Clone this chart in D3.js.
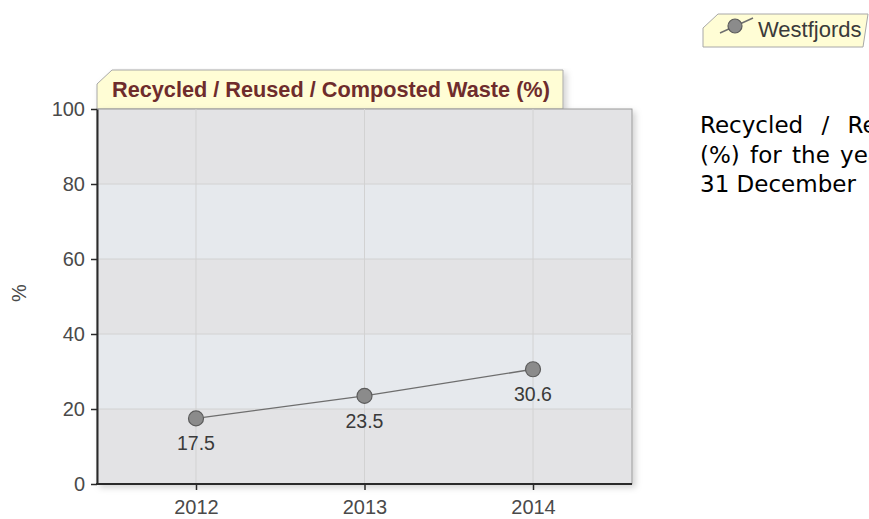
<!DOCTYPE html>
<html>
<head>
<meta charset="utf-8">
<script src="https://cdn.jsdelivr.net/npm/d3@7"></script>
<style>
  body { margin: 0; background: #fff; overflow: hidden; }
  svg { display: block; }
</style>
</head>
<body>
<script>
var width = 869
var height = 519
var margin = { top: 109, bottom: 35, left: 97, right: 237 }

// chart data
var years = ['2012', '2013', '2014']
var values = [17.5, 23.5, 30.6]
var yTicks = [0, 20, 40, 60, 80, 100]
var seriesName = 'Westfjords'
var chartTitle = 'Recycled / Reused / Composted Waste (%)'
var yLabel = '%'
var descLines = [
  'Recycled / Reused / Composted Waste',
  '(%) for the year ending',
  '31 December'
]

var data = years.map((y, i) => ({ year: y, value: values[i] }))

var svg = d3.select('body').append('svg')
  .attr('width', width)
  .attr('height', height)

var defs = svg.append('defs')
var shadow = defs.append('filter').attr('id', 'shadow')
  .attr('x', '-5%').attr('y', '-5%').attr('width', '115%').attr('height', '115%')
shadow.append('feDropShadow')
  .attr('dx', 3).attr('dy', 3).attr('stdDeviation', 3)
  .attr('flood-color', '#000').attr('flood-opacity', 0.18)

var x0 = margin.left, x1 = width - margin.right
var y0 = height - margin.bottom, y1 = margin.top

var xScale = d3.scalePoint()
  .domain(years)
  .range([x0, x1])
  .padding(0.5875)

var yScale = d3.scaleLinear()
  .domain([0, 100])
  .range([y0, y1])

// title tab
svg.append('path')
  .attr('d', 'M' + [x0, y1] + 'L' + [x0, y1 - 25] + 'L' + [x0 + 15, y1 - 39] +
    'L' + [563, y1 - 39] + 'L' + [563, y1] + 'Z')
  .attr('fill', '#fffdd5')
  .attr('stroke', '#a8a8a8')
  .attr('filter', 'url(#shadow)')

svg.append('text')
  .attr('x', 112)
  .attr('y', y1 - 12)
  .attr('font-family', 'Arial, "Liberation Sans", sans-serif')
  .attr('font-weight', 'bold')
  .attr('font-size', 21.7)
  .attr('fill', '#6e2c2c')
  .text(chartTitle)

// plot background
svg.append('rect')
  .attr('x', x0).attr('y', y1)
  .attr('width', x1 - x0).attr('height', y0 - y1)
  .attr('fill', '#e3e3e5')
  .attr('stroke', '#9a9a9a')
  .attr('filter', 'url(#shadow)')

var bands = d3.pairs(yTicks).filter((d, i) => i % 2 == 1)
svg.append('g').selectAll('rect')
  .data(bands)
  .enter().append('rect')
  .attr('x', x0 + 1)
  .attr('y', d => yScale(d[1]))
  .attr('width', x1 - x0 - 2)
  .attr('height', d => yScale(d[0]) - yScale(d[1]))
  .attr('fill', '#e6e9ed')

// grid
svg.append('g').selectAll('line')
  .data(yTicks.slice(1, -1))
  .enter().append('line')
  .attr('x1', x0).attr('x2', x1)
  .attr('y1', d => yScale(d)).attr('y2', d => yScale(d))
  .attr('stroke', '#d2d2d2')

svg.append('g').selectAll('line')
  .data(years)
  .enter().append('line')
  .attr('x1', d => xScale(d)).attr('x2', d => xScale(d))
  .attr('y1', y1).attr('y2', y0)
  .attr('stroke', '#d2d2d2')

// axes
var yAxis = d3.axisLeft(yScale)
  .tickValues(yTicks)
  .tickSize(6)
  .tickSizeOuter(0)
  .tickPadding(6)

var xAxis = d3.axisBottom(xScale)
  .tickSize(6)
  .tickSizeOuter(0)
  .tickPadding(10)

var gy = svg.append('g')
  .attr('transform', 'translate(' + [x0, 0] + ')')
  .call(yAxis)

var gx = svg.append('g')
  .attr('transform', 'translate(' + [0, y0] + ')')
  .call(xAxis)

gx.select('.domain').attr('d', 'M' + [x0 - 1, 0] + 'H' + x1)

;[gx, gy].forEach(g => {
  g.select('.domain').attr('stroke', '#2a2a2a').attr('stroke-width', 2)
  g.selectAll('.tick line').attr('stroke', '#2a2a2a').attr('stroke-width', 1.5)
  g.selectAll('.tick text')
    .attr('font-family', 'Arial, "Liberation Sans", sans-serif')
    .attr('font-size', 20)
    .attr('fill', '#4a4a4a')
})

svg.append('text')
  .attr('transform', 'translate(' + [26, 293] + ') rotate(-90)')
  .attr('text-anchor', 'middle')
  .attr('font-family', 'Arial, "Liberation Sans", sans-serif')
  .attr('font-size', 20)
  .attr('fill', '#4a4a4a')
  .text(yLabel)

// series
var line = d3.line()
  .x(d => xScale(d.year))
  .y(d => yScale(d.value))

svg.append('path')
  .attr('d', line(data))
  .attr('fill', 'none')
  .attr('stroke', '#6e6e6e')
  .attr('stroke-width', 1.4)

svg.append('g').selectAll('circle')
  .data(data)
  .enter().append('circle')
  .attr('cx', d => xScale(d.year))
  .attr('cy', d => yScale(d.value))
  .attr('r', 7.5)
  .attr('fill', '#8b8b8b')
  .attr('stroke', '#5c5c5c')
  .attr('stroke-width', 1.2)

svg.append('g').selectAll('text')
  .data(data)
  .enter().append('text')
  .attr('x', d => xScale(d.year))
  .attr('y', d => yScale(d.value) + 32)
  .attr('text-anchor', 'middle')
  .attr('font-family', 'Arial, "Liberation Sans", sans-serif')
  .attr('font-size', 19.5)
  .attr('fill', '#3a3a3a')
  .text(d => d.value)

// legend
var lg = svg.append('g')
lg.append('path')
  .attr('d', 'M703,28L718,14H868L863,47H703Z')
  .attr('fill', '#fffdd5')
  .attr('stroke', '#a8a8a8')
lg.append('line')
  .attr('x1', 720).attr('y1', 33).attr('x2', 753).attr('y2', 18)
  .attr('stroke', '#6e6e6e').attr('stroke-width', 1.4)
lg.append('circle')
  .attr('cx', 735).attr('cy', 26).attr('r', 7)
  .attr('fill', '#8b8b8b').attr('stroke', '#5c5c5c').attr('stroke-width', 1.2)
lg.append('text')
  .attr('x', 758).attr('y', 37)
  .attr('font-family', 'Arial, "Liberation Sans", sans-serif')
  .attr('font-size', 22)
  .attr('fill', '#3a3a3a')
  .text(seriesName)

// description
var desc = svg.append('g')
desc.selectAll('text')
  .data(descLines)
  .enter().append('text')
  .attr('x', 700)
  .attr('y', (d, i) => 133 + i * 29.5)
  .attr('font-family', 'Verdana, "DejaVu Sans", sans-serif')
  .attr('font-size', 23)
  .attr('word-spacing', (d, i) => i == 0 ? 11 : (i == 1 ? 3 : 0))
  .attr('fill', '#000')
  .text(d => d)
</script>
</body>
</html>
